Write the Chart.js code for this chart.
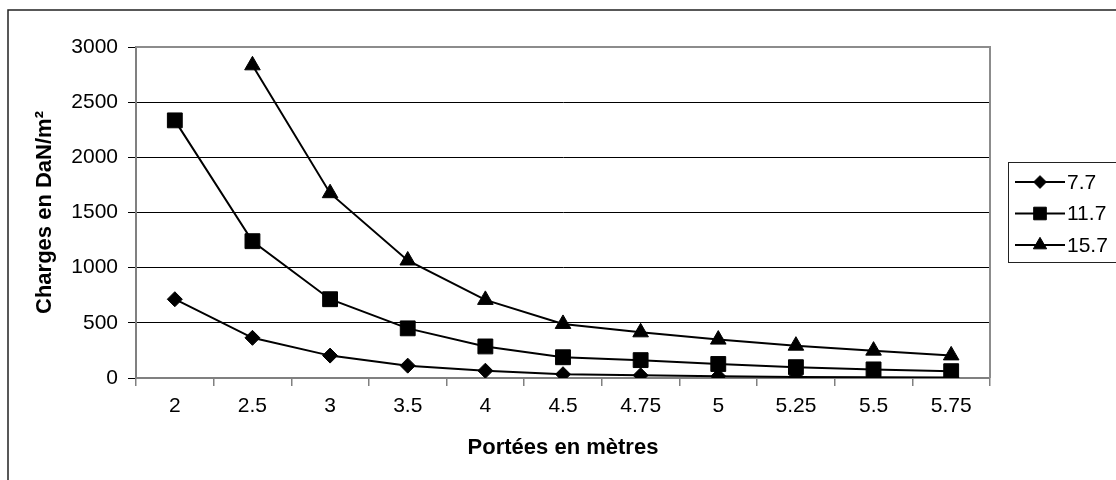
<!DOCTYPE html>
<html>
<head>
<meta charset="utf-8">
<script src="https://cdn.jsdelivr.net/npm/chart.js@4/dist/chart.umd.min.js"></script>
<style>
  html, body { margin: 0; padding: 0; background: #ffffff; }
  #wrap { position: relative; width: 1116px; height: 480px; }
</style>
</head>
<body>
<div id="wrap"><canvas id="c" width="1116" height="480"></canvas></div>
<script>
const categories = ["2", "2.5", "3", "3.5", "4", "4.5", "4.75", "5", "5.25", "5.5", "5.75"];
const series77  = [714, 364, 203, 112, 66, 34, 24, 15, 10, 7, 5];
const series117 = [2335, 1240, 714, 450, 286, 188, 162, 127, 98, 78, 62];
const series157 = [null, 2834, 1675, 1065, 708, 490, 414, 348, 293, 248, 205];
const seriesLabels = ["7.7", "11.7", "15.7"];
const seriesMarkers = ["rectRot", "rect", "triangle"];
const markerRadius = [7.5, 10.5, 9];
const yTicks = [0, 500, 1000, 1500, 2000, 2500, 3000];
const xTitle = "Portées en mètres";
const yTitle = "Charges en DaN/m²";

const FONT = "'Liberation Sans', Arial, sans-serif";

function makeDataset(label, data, marker, r) {
  return {
    label: label,
    data: data,
    borderColor: '#000000',
    backgroundColor: '#000000',
    borderWidth: 2,
    pointStyle: marker,
    pointRadius: r,
    pointHoverRadius: r,
    pointBackgroundColor: '#000000',
    pointBorderColor: '#000000',
    pointBorderWidth: 1,
    tension: 0,
    spanGaps: false
  };
}

const framePlugin = {
  id: 'frame',
  beforeDraw(chart) {
    const ctx = chart.ctx;
    ctx.save();
    ctx.fillStyle = '#ffffff';
    ctx.fillRect(0, 0, chart.width, chart.height);
    ctx.strokeStyle = '#222222';
    ctx.lineWidth = 1.5;
    ctx.beginPath();
    ctx.moveTo(8, chart.height + 5);
    ctx.lineTo(8, 10);
    ctx.lineTo(chart.width + 5, 10);
    ctx.stroke();
    ctx.restore();
  },
  afterDatasetsDraw(chart) {
    const a = chart.chartArea;
    const ctx = chart.ctx;
    ctx.save();
    ctx.strokeStyle = '#8c8c8c';
    ctx.lineWidth = 2;
    ctx.beginPath();
    ctx.moveTo(a.left, a.top);
    ctx.lineTo(a.right, a.top);
    ctx.lineTo(a.right, a.bottom);
    ctx.stroke();
    ctx.restore();
  },
  afterDraw(chart) {
    const ctx = chart.ctx;
    const bx = 1008.5, by = 162.5, bw = 120, bh = 100;
    ctx.save();
    ctx.strokeStyle = '#222222';
    ctx.lineWidth = 1;
    ctx.fillStyle = '#ffffff';
    ctx.fillRect(bx, by, bw, bh);
    ctx.strokeRect(bx, by, bw, bh);
    chart.data.datasets.forEach((ds, i) => {
      const cy = 182 + i * 31.5;
      ctx.strokeStyle = '#000000';
      ctx.lineWidth = 2;
      ctx.beginPath();
      ctx.moveTo(1015, cy);
      ctx.lineTo(1065, cy);
      ctx.stroke();
      ctx.fillStyle = '#000000';
      ctx.strokeStyle = '#000000';
      ctx.lineWidth = 1;
      Chart.helpers.drawPoint(ctx, {pointStyle: ds.pointStyle, radius: ds.pointRadius * 0.85, borderWidth: 1}, 1040, cy);
      ctx.fillStyle = '#000000';
      ctx.font = "21px " + FONT;
      ctx.textBaseline = 'middle';
      ctx.textAlign = 'left';
      ctx.fillText(ds.label, 1067, cy + 1);
    });
    ctx.restore();
  }
};

new Chart(document.getElementById('c'), {
  type: 'line',
  data: {
    labels: categories,
    datasets: [
      makeDataset(seriesLabels[0], series77, seriesMarkers[0], markerRadius[0]),
      makeDataset(seriesLabels[1], series117, seriesMarkers[1], markerRadius[1]),
      makeDataset(seriesLabels[2], series157, seriesMarkers[2], markerRadius[2])
    ]
  },
  options: {
    responsive: false,
    animation: false,
    devicePixelRatio: 1,
    layout: { padding: { left: 0, top: 47, right: 126, bottom: 0 } },
    plugins: {
      legend: { display: false },
      tooltip: { enabled: false },
      title: { display: false }
    },
    scales: {
      x: {
        type: 'category',
        offset: true,
        afterFit(scale) { scale.height = 102; },
        grid: {
          display: true,
          drawOnChartArea: false,
          drawTicks: true,
          tickLength: 8,
          offset: true,
          color: '#808080',
          lineWidth: 1.5
        },
        border: { display: true, color: '#808080', width: 2 },
        ticks: {
          color: '#000000',
          font: { family: FONT, size: 21 },
          padding: 8,
          maxRotation: 0,
          autoSkip: false
        },
        title: {
          display: true,
          text: xTitle,
          color: '#000000',
          font: { family: FONT, size: 22, weight: 'bold' },
          padding: { top: 0, bottom: 19 }
        }
      },
      y: {
        min: 0,
        max: 3000,
        afterFit(scale) { scale.width = 136; },
        afterBuildTicks(scale) { scale.ticks = yTicks.map(v => ({ value: v })); },
        grid: {
          display: true,
          drawOnChartArea: true,
          drawTicks: true,
          tickLength: 8,
          color: '#000000',
          lineWidth: 1
        },
        border: { display: true, color: '#808080', width: 2 },
        ticks: {
          color: '#000000',
          font: { family: FONT, size: 21 },
          padding: 10,
          callback: (value) => String(value)
        },
        title: {
          display: true,
          text: yTitle,
          color: '#000000',
          font: { family: FONT, size: 22, weight: 'bold' },
          padding: { top: 32, bottom: 0 }
        }
      }
    }
  },
  plugins: [framePlugin]
});
</script>
</body>
</html>
